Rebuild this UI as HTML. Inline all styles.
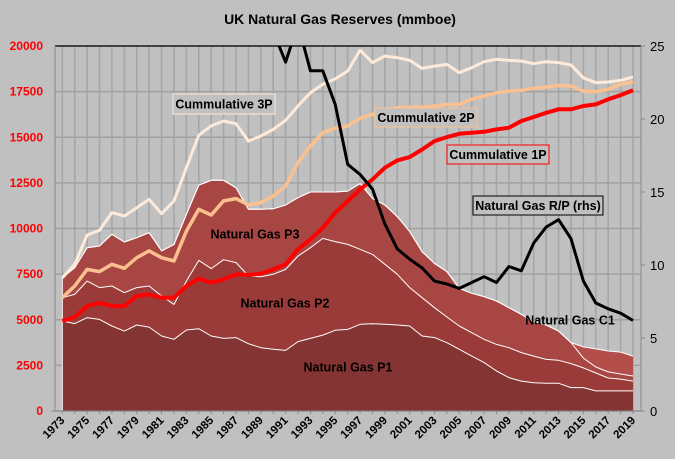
<!DOCTYPE html>
<html><head><meta charset="utf-8"><style>
html,body{margin:0;padding:0;background:#c0c0c0;}
svg{display:block;font-family:"Liberation Sans",sans-serif;}
</style></head><body>
<svg id="chart" width="675" height="459" viewBox="0 0 675 459">
<rect x="0" y="0" width="675" height="459" fill="#c0c0c0"/>
<text x="340" y="24" text-anchor="middle" font-size="14" font-weight="bold" fill="#000">UK Natural Gas Reserves (mmboe)</text>
<g id="grid"></g>
<defs><clipPath id="pc"><rect x="55" y="46" width="586" height="365"/></clipPath></defs>
<g id="areas"></g>
<g id="lines" clip-path="url(#pc)"></g>
<g id="axes"></g>
<g id="labels"></g>
</svg>
<script>
const years = [];
for (let y = 1973; y <= 2019; y++) years.push(y);
const p1 = [4930,4790,5110,5020,4660,4380,4710,4600,4110,3930,4440,4510,4110,3980,4020,3690,3470,3380,3320,3800,3980,4160,4420,4470,4750,4780,4750,4710,4660,4110,4020,3740,3380,3010,2650,2190,1830,1640,1550,1520,1520,1280,1280,1100,1100,1100,1100];
const p12 = [6210,6390,7120,6760,6850,6480,6760,6850,6300,5840,7120,8250,7800,8290,8130,7400,7360,7490,7760,8490,8950,9460,9280,9130,8860,8580,8040,7490,6760,6210,5660,5150,4660,4290,3930,3650,3470,3200,3010,2830,2780,2600,2360,2080,1810,1750,1640];
const p123 = [7300,7850,8950,9040,9680,9260,9500,9770,8770,9130,10770,12380,12640,12640,12230,11050,11050,11080,11290,11690,12000,12000,12000,12050,12460,11650,11290,10650,9830,8730,8090,7640,6720,6450,6270,6030,5660,5300,4890,4710,4380,3750,2900,2410,2140,2030,1920];
const total = [7300,7850,8950,9040,9680,9260,9500,9770,8770,9130,10770,12380,12640,12640,12230,11050,11050,11080,11290,11690,12000,12000,12000,12050,12460,11650,11290,10650,9830,8730,8090,7640,6720,6450,6270,6030,5660,5300,4890,4710,4380,3750,3510,3400,3290,3230,3010];
const cum3p = [7300,8040,9640,9900,10870,10680,11140,11600,10810,11510,13330,15120,15620,15890,15740,14790,15070,15430,15930,16710,17440,17900,18200,18630,19770,19090,19450,19360,19210,18770,18900,18990,18540,18810,19140,19270,19210,19180,19030,19140,19090,18960,18260,17990,18030,18120,18300];
const cum2p = [6210,6850,7760,7640,8040,7820,8400,8770,8400,8220,9860,11050,10740,11510,11640,11290,11420,11780,12330,13610,14520,15250,15490,15620,16040,16260,16480,16620,16660,16660,16710,16800,16800,17080,17260,17440,17530,17570,17680,17750,17840,17810,17530,17500,17620,17900,18040];
const cum1p = [4930,5150,5750,5930,5750,5750,6300,6390,6210,6210,6850,7250,7030,7210,7490,7450,7530,7760,8040,8860,9410,10040,10870,11500,12140,12690,13330,13730,13910,14330,14790,15010,15190,15250,15300,15430,15520,15890,16110,16340,16530,16530,16710,16800,17080,17310,17570];
const rp = [null,null,null,null,null,null,null,null,null,null,null,null,null,null,null,null,30,26,23.9,26.5,23.3,23.3,21,16.9,16.2,15.2,12.8,11.1,10.4,9.8,8.9,8.7,8.4,8.8,9.2,8.8,9.9,9.6,11.5,12.6,13.1,11.8,8.9,7.4,7.0,6.7,6.2];
const leftTicks = [0,2500,5000,7500,10000,12500,15000,17500,20000];
const rightTicks = [0,5,10,15,20,25];

const NS = "http://www.w3.org/2000/svg";
const X0 = 62.3, X1 = 633, YT = 46, YB = 411;
const xs = i => X0 + (X1 - X0) * i / (years.length - 1);
const yL = v => YB - (YB - YT) * v / 20000;
const yR = v => YB - (YB - YT) * v / 25;
function mk(tag, attrs, parent) {
  const e = document.createElementNS(NS, tag);
  for (const k in attrs) e.setAttribute(k, attrs[k]);
  parent.appendChild(e);
  return e;
}
const grid = document.getElementById('grid');
const areas = document.getElementById('areas');
const lines = document.getElementById('lines');
const axes = document.getElementById('axes');
const lab = document.getElementById('labels');

years.forEach((yr, i) => {
  const l = mk('line', {x1: xs(i), x2: xs(i), y1: YT, y2: YB, stroke: '#a6a6a6', 'stroke-width': 1.6}, grid);
  
  
});
leftTicks.forEach(v => {
  const l = mk('line', {x1: 55, x2: 641, y1: yL(v), y2: yL(v), stroke: '#a0a0a0', 'stroke-width': 1.6}, grid);
  
  
});

function area(topVals, bot, fill, name) {
  let d = '';
  topVals.forEach((v, i) => { d += (i ? 'L' : 'M') + xs(i).toFixed(1) + ' ' + yL(v).toFixed(1); });
  for (let i = bot.length - 1; i >= 0; i--) d += 'L' + xs(i).toFixed(1) + ' ' + yL(bot[i]).toFixed(1);
  d += 'Z';
  const p = mk('path', {d: d, fill: fill, stroke: 'none'}, areas);
  
  
}
const zeros = years.map(() => 0);
area(total, p123, '#b44e4a', 'area-c1');
area(p123, p12, '#a84644', 'area-p3');
area(p12, p1, '#9a3b39', 'area-p2');
area(p1, zeros, '#843432', 'area-p1');
function path(vals, fy, color, w, name, parent) {
  let d = '', pen = false;
  vals.forEach((v, i) => {
    if (v === null) { pen = false; return; }
    d += (pen ? 'L' : 'M') + xs(i).toFixed(1) + ' ' + fy(v).toFixed(1);
    pen = true;
  });
  const p = mk('path', {d: d, fill: 'none', stroke: color, 'stroke-width': w, 'stroke-linejoin': 'round'}, parent);
  
  
}
path(p1, yL, '#ffffff', 1, 'p1-boundary', areas);
path(p12, yL, '#ffffff', 1, 'p2-boundary', areas);
path(p123, yL, '#ffffff', 1, 'p3-boundary', areas);
path(total, yL, '#ffffff', 1, 'c1-boundary', areas);
const e0 = mk('line', {x1: X0, x2: X0, y1: yL(total[0]), y2: YB, stroke: '#ffffff', 'stroke-width': 1}, areas);



path(cum3p, yL, '#fdeada', 3, 'line-cumulative-3p', lines);
path(cum2p, yL, '#fac090', 3.5, 'line-cumulative-2p', lines);
path(cum1p, yL, '#ff0000', 4, 'line-cumulative-1p', lines);
path(rp, yR, '#000000', 3, 'line-rp-ratio', lines);

const topBorder = mk('line', {x1: 55, x2: 641, y1: YT, y2: YT, stroke: '#000', 'stroke-width': 1.2}, axes);


const la = mk('line', {x1: 55, x2: 55, y1: YT, y2: YB, stroke: '#888', 'stroke-width': 1}, axes);


const ra = mk('line', {x1: 641, x2: 641, y1: YT, y2: YB, stroke: '#888', 'stroke-width': 1}, axes);


const ba = mk('line', {x1: 51, x2: 641, y1: YB, y2: YB, stroke: '#888', 'stroke-width': 1}, axes);


leftTicks.forEach(v => {
  const t = mk('text', {x: 43, y: yL(v) + 4, 'text-anchor': 'end', 'font-size': 12, 'font-weight': 'bold', fill: '#ff0000'}, axes);
  t.textContent = v;
  
  
});
rightTicks.forEach(v => {
  const t = mk('text', {x: 650, y: yR(v) + 5, 'text-anchor': 'start', 'font-size': 13, fill: '#000'}, axes);
  t.textContent = v;
  
  
  const tk = mk('line', {x1: 641, x2: 645, y1: yR(v), y2: yR(v), stroke: '#888'}, axes);
  
  
});
years.forEach((yr, i) => {
  const tk = mk('line', {x1: xs(i), x2: xs(i), y1: YB, y2: YB + 3, stroke: '#888'}, axes);
  
  
  if (yr % 2 === 1) {
    const x = xs(i) + 3, y = 421;
    const t = mk('text', {x: x, y: y, 'text-anchor': 'end', 'font-size': 11.5, 'font-weight': 'bold', fill: '#000', transform: 'rotate(-45 ' + x + ' ' + y + ')'}, axes);
    t.textContent = yr;
    
    
  }
});

function boxLabel(x, y, w, h, txt, border, name) {
  const g = document.createElementNS(NS, 'g');
  lab.appendChild(g);
  
  
  if (border) mk('rect', {x: x, y: y, width: w, height: h, fill: '#c0c0c0', stroke: border, 'stroke-width': 1}, g);
  const t = mk('text', {x: x + w / 2, y: y + h / 2 + 4.5, 'text-anchor': 'middle', 'font-size': 12.5, 'font-weight': 'bold', fill: '#000'}, g);
  t.textContent = txt;
}
boxLabel(173, 94, 102, 20, 'Cummulative 3P', '#fde9d9', 'label-cumulative-3p');
boxLabel(375, 108, 102, 19, 'Cummulative 2P', '#fac090', 'label-cumulative-2p');
boxLabel(447, 145, 102, 19, 'Cummulative 1P', '#ff0000', 'label-cumulative-1p');
boxLabel(473, 196, 130, 19, 'Natural Gas R/P (rhs)', '#000000', 'label-rp-ratio');
boxLabel(205, 225, 100, 18, 'Natural Gas P3', null, 'label-p3');
boxLabel(235, 294, 100, 18, 'Natural Gas P2', null, 'label-p2');
boxLabel(298, 358, 100, 18, 'Natural Gas P1', null, 'label-p1');
boxLabel(520, 311, 100, 18, 'Natural Gas C1', null, 'label-c1');
</script>
</body></html>
